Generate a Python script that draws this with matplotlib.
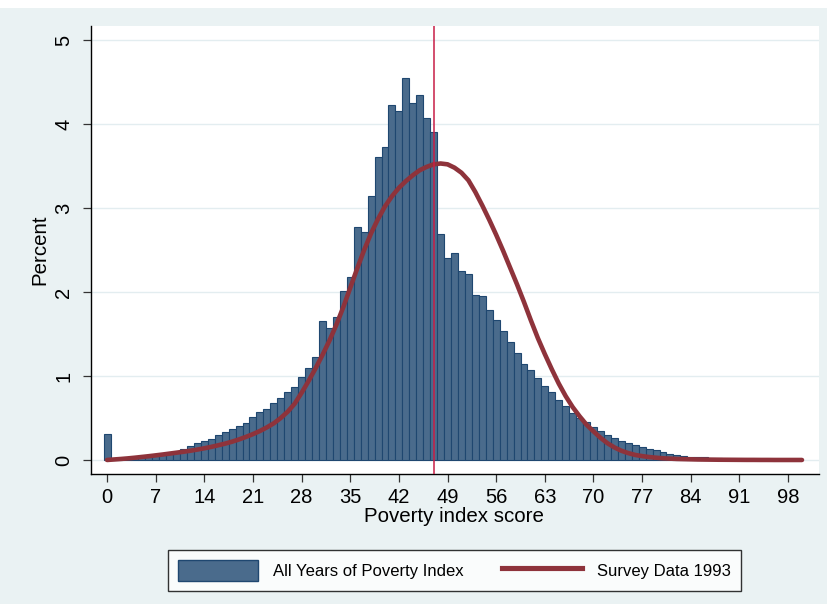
import numpy as np
import matplotlib
matplotlib.use("Agg")
import matplotlib.pyplot as plt
import matplotlib.patches as mpatches
from matplotlib.lines import Line2D

plt.rcParams['font.family'] = ['Liberation Sans', 'DejaVu Sans']

# percent of observations per unit-wide score bin (bins centred on 0..99)
bin_pct = [0.306, 0.005, 0.01, 0.015, 0.02, 0.03, 0.04, 0.05, 0.06, 0.075,
           0.09, 0.125, 0.167, 0.198, 0.226, 0.25, 0.294, 0.333, 0.365, 0.409,
           0.437, 0.508, 0.567, 0.603, 0.675, 0.734, 0.806, 0.865, 0.984, 1.10,
           1.23, 1.655, 1.567, 1.70, 2.01, 2.175, 2.774, 2.72, 3.14, 3.61,
           3.73, 4.23, 4.15, 4.55, 4.25, 4.35, 4.07, 3.91, 2.69, 2.41,
           2.46, 2.25, 2.22, 1.96, 1.95, 1.79, 1.67, 1.54, 1.41, 1.27,
           1.14, 1.07, 0.98, 0.885, 0.81, 0.72, 0.64, 0.56, 0.50, 0.448,
           0.39, 0.345, 0.294, 0.266, 0.226, 0.198, 0.175, 0.159, 0.127, 0.115,
           0.095, 0.071, 0.06, 0.048, 0.04, 0.036, 0.032, 0.025, 0.02, 0.016,
           0.012, 0.01, 0.008, 0.006, 0.005, 0.004, 0.003, 0.002, 0.002, 0.001]
bin_centre = np.arange(len(bin_pct))

# 1993 survey density curve, one value per score point 0..100
curve_y = [0.0, 0.006, 0.012, 0.019, 0.027, 0.036, 0.045, 0.055, 0.065, 0.076,
           0.087, 0.098, 0.11, 0.124, 0.139, 0.156, 0.175, 0.195, 0.218, 0.245,
           0.275, 0.308, 0.345, 0.388, 0.437, 0.50, 0.575, 0.67, 0.80, 0.94,
           1.09, 1.25, 1.42, 1.61, 1.82, 2.05, 2.28, 2.50, 2.70, 2.87,
           3.02, 3.14, 3.24, 3.32, 3.39, 3.45, 3.49, 3.52, 3.53, 3.52,
           3.48, 3.42, 3.33, 3.19, 3.03, 2.86, 2.68, 2.49, 2.29, 2.09,
           1.88, 1.66, 1.45, 1.26, 1.08, 0.91, 0.76, 0.63, 0.52, 0.42,
           0.34, 0.265, 0.20, 0.15, 0.11, 0.082, 0.06, 0.046, 0.035, 0.027,
           0.02, 0.016, 0.012, 0.01, 0.008, 0.006, 0.005, 0.004, 0.003, 0.0025,
           0.002, 0.0015, 0.001, 0.001, 0.0005, 0.0005, 0.0, 0.0, 0.0, 0.0,
           0.0]
curve_x = np.arange(len(curve_y))

survey_mark = 47.05
xticks = list(range(0, 99, 7))
yticks = [0, 1, 2, 3, 4, 5]

bg = '#EAF2F3'
bar_fill = '#4A6B8C'
bar_edge = '#1F4770'
curve_col = '#8E333B'
mark_col = '#C81E46'

fig = plt.figure(figsize=(8.28, 6.04), dpi=100, facecolor=bg)
# white strip along the top edge
fig.patches.append(mpatches.Rectangle((0, 1 - 8 / 604), 1, 8 / 604,
                                      transform=fig.transFigure,
                                      facecolor='white', edgecolor='none'))

ax = fig.add_axes([0.10954, 0.21523, 0.87959, 0.74172])
ax.set_facecolor('white')

ax.bar(bin_centre, bin_pct, width=1.0, color=bar_fill, edgecolor=bar_edge,
       linewidth=0.8, zorder=2)
ax.plot(curve_x, curve_y, color=curve_col, linewidth=3.3,
        solid_capstyle='round', solid_joinstyle='round', zorder=3)
ax.axvline(survey_mark, color=mark_col, linewidth=1.1, zorder=4)

ax.set_xlim(-2.35, 102.45)
ax.set_ylim(-0.167, 5.167)
ax.set_xticks(xticks)
ax.set_yticks(yticks)
ax.grid(axis='y', color='#E3EDF0', linewidth=1.0, zorder=0)
ax.set_axisbelow(True)

for side in ('top', 'right'):
    ax.spines[side].set_visible(False)
for side in ('left', 'bottom'):
    ax.spines[side].set_color('black')
    ax.spines[side].set_linewidth(1.0)

ax.tick_params(axis='both', direction='out', length=5.5, width=0.9,
               color='#333333', labelsize=14.5)
ax.tick_params(axis='x', pad=4.5)
ax.tick_params(axis='y', pad=7)
for lab in ax.get_yticklabels():
    lab.set_rotation(90)
    lab.set_va('center')

ax.set_xlabel('Poverty index score', fontsize=14.8)
ax.set_ylabel('Percent', fontsize=14.8)
ax.xaxis.set_label_coords(0.499, -0.074)
ax.yaxis.set_label_coords(-0.0573, 0.5)

handles = [mpatches.Patch(facecolor=bar_fill, edgecolor=bar_edge, linewidth=1.0),
           Line2D([], [], color=curve_col, linewidth=3.7)]
leg = fig.legend(handles, ['All Years of Poverty Index', 'Survey Data 1993'],
                 loc='center', bbox_to_anchor=(0.5492, 0.0555), ncol=2,
                 frameon=True, fancybox=False, fontsize=12,
                 handlelength=4.8, handleheight=1.55, handletextpad=0.9,
                 columnspacing=2.3, borderpad=0.6)
leg.get_frame().set_edgecolor('black')
leg.get_frame().set_linewidth(1.0)
leg.get_frame().set_facecolor('white')

fig.savefig('out.png', dpi=100, facecolor=bg)
